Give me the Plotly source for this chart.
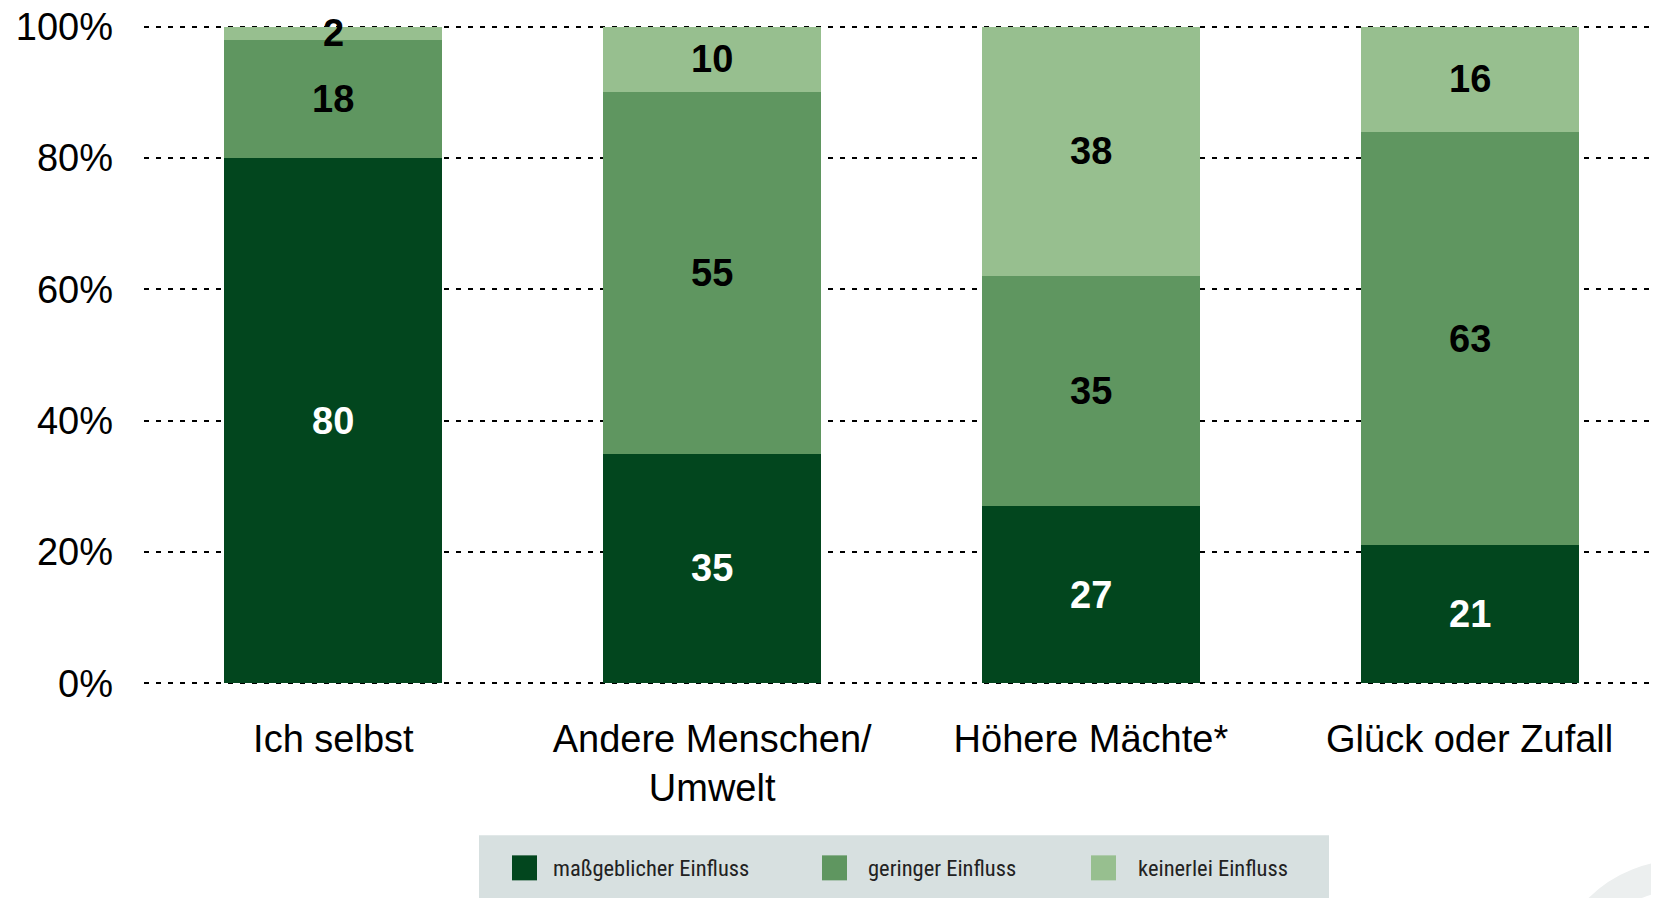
import plotly.graph_objects as go

categories = ["Ich selbst", "Andere Menschen/<br>Umwelt", "Höhere Mächte*", "Glück oder Zufall"]
series_names = ["maßgeblicher Einfluss", "geringer Einfluss", "keinerlei Einfluss"]
massgeblich = [80, 35, 27, 21]
gering = [18, 55, 35, 63]
keinerlei = [2, 10, 38, 16]
series_values = [massgeblich, gering, keinerlei]
y_tickvals = [0, 20, 40, 60, 80, 100]
y_ticktext = ["0%", "20%", "40%", "60%", "80%", "100%"]

colors = ["#02461E", "#5F9660", "#97BF8F"]
label_colors = ["#FFFFFF", "#000000", "#000000"]
FONT = "Liberation Sans, Arial, sans-serif"
NARROW = "Liberation Sans Narrow, Arial Narrow, Roboto Condensed, Liberation Sans, sans-serif"

# page has an 8px body margin; figure sized to fill the window
W, H = 1651, 890
ML, MR, MT, MB = 136, 0, 17, 213
Y_RANGE = [-0.25, 100.25]
AX0_X = 144   # screen x of plot left edge
AX0_Y = 683   # screen y of value 0
Y0_PAPER = (0 - Y_RANGE[0]) / (Y_RANGE[1] - Y_RANGE[0])

fig = go.Figure()
for name, vals, col in zip(series_names, series_values, colors):
    fig.add_trace(go.Bar(x=categories, y=vals, name=name, marker_color=col,
                         marker_line_width=0, showlegend=False))

annotations = []
base = [0] * len(categories)
for vals, tcol in zip(series_values, label_colors):
    for i, (c, v) in enumerate(zip(categories, vals)):
        annotations.append(dict(x=c, y=base[i] + v / 2, xref="x", yref="y",
                                text=f"<b>{v}</b>", showarrow=False,
                                font=dict(family=FONT, size=38, color=tcol)))
        base[i] += v


def px_shape(kind, x0, x1, y0, y1, **kw):
    # screen-pixel shape anchored to plot-left / value-0 (paper refs, so not clipped)
    return dict(type=kind, xref="paper", yref="paper", xsizemode="pixel", ysizemode="pixel",
                xanchor=0, yanchor=Y0_PAPER, x0=x0 - AX0_X, x1=x1 - AX0_X,
                y0=-(y0 - AX0_Y), y1=-(y1 - AX0_Y), **kw)


shapes = [px_shape("rect", 479, 1329, 835, 905, fillcolor="#D7E0E0", line_width=0, layer="below")]
# faint watermark ring in the corner
cx, cy, r = 1680, 990, 115
shapes.append(px_shape("circle", cx - r, cx + r, cy - r, cy + r,
                       line=dict(color="#ECEFEF", width=30), fillcolor="rgba(0,0,0,0)", layer="below"))
swatch_x = [512, 822, 1091]
text_x = [551, 866, 1136]
for name, col, sx, tx in zip(series_names, colors, swatch_x, text_x):
    shapes.append(px_shape("rect", sx, sx + 25, 855, 880, fillcolor=col, line_width=0))
    annotations.append(dict(x=0, y=Y0_PAPER, xref="paper", yref="paper", xanchor="left", yanchor="middle",
                            xshift=tx - AX0_X, yshift=-(868 - AX0_Y), text=name, showarrow=False,
                            font=dict(family=NARROW, size=22.5, color="#222222")))

fig.update_layout(
    width=W, height=H,
    margin=dict(l=ML, r=MR, t=MT, b=MB, autoexpand=False),
    barmode="stack", bargap=0.425,
    plot_bgcolor="white", paper_bgcolor="white",
    font=dict(family=FONT, size=38, color="#000000"),
    annotations=annotations, shapes=shapes,
    xaxis=dict(showline=False, showgrid=False, ticks="", ticklabelstandoff=28,
               tickfont=dict(family=FONT, size=38, color="#000000")),
    yaxis=dict(range=Y_RANGE, tickvals=y_tickvals, ticktext=y_ticktext,
               showgrid=True, gridcolor="#000000", gridwidth=2, griddash="5px,7px",
               zeroline=False, showline=False, ticks="", ticklabelstandoff=30,
               ticklabeloverflow="allow",
               tickfont=dict(family=FONT, size=38, color="#000000")),
)

fig.write_html("out.html")
